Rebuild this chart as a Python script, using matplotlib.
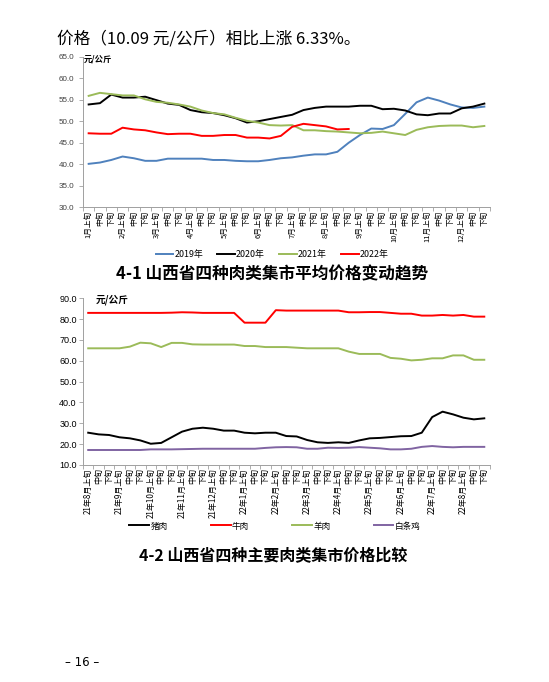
import matplotlib
matplotlib.use("Agg")
import matplotlib.pyplot as plt
import numpy as np

plt.rcParams['font.family'] = ['Noto Sans CJK SC', 'DejaVu Sans']

# ---------------- data: chart 4-1 ----------------
months1 = ["1月", "2月", "3月", "4月", "5月", "6月", "7月", "8月", "9月", "10月", "11月", "12月"]
periods = ["上旬", "中旬", "下旬"]
labels1 = []
for m in months1:
    labels1 += [m + "上旬", "中旬", "下旬"]

y2019 = [40.1, 40.4, 41.0, 41.8, 41.4, 40.8, 40.8, 41.3, 41.3, 41.3, 41.3, 41.0,
         41.0, 40.8, 40.7, 40.7, 41.0, 41.4, 41.6, 42.0, 42.3, 42.3, 42.9, 45.0,
         46.8, 48.3, 48.2, 49.1, 51.7, 54.4, 55.5, 54.8, 53.9, 53.2, 53.1, 53.4]
y2020 = [53.9, 54.2, 56.2, 55.5, 55.5, 55.7, 54.9, 54.1, 53.8, 52.6, 52.1, 51.9,
         51.4, 50.7, 49.7, 50.0, 50.5, 51.0, 51.5, 52.6, 53.1, 53.4, 53.4, 53.4,
         53.6, 53.6, 52.8, 52.9, 52.5, 51.6, 51.4, 51.8, 51.8, 53.0, 53.4, 54.1]
y2021 = [55.9, 56.6, 56.3, 56.0, 56.0, 55.1, 54.5, 54.3, 53.9, 53.4, 52.5, 51.9,
         51.6, 50.8, 50.1, 49.7, 49.1, 49.0, 49.1, 47.9, 47.9, 47.7, 47.6, 47.4,
         47.2, 47.3, 47.6, 47.2, 46.8, 48.0, 48.6, 48.9, 49.0, 49.0, 48.6, 48.9]
y2022 = [47.2, 47.1, 47.1, 48.5, 48.1, 47.9, 47.4, 47.0, 47.1, 47.1, 46.6, 46.6,
         46.8, 46.8, 46.2, 46.2, 46.0, 46.6, 48.7, 49.4, 49.1, 48.8, 48.1, 48.2]
series1_names = ["2019年", "2020年", "2021年", "2022年"]
series1_colors = ["#4F81BD", "#000000", "#9BBB59", "#FF0000"]

# ---------------- data: chart 4-2 ----------------
months2 = ["21年8月", "21年9月", "21年10月", "21年11月", "21年12月", "22年1月", "22年2月",
           "22年3月", "22年4月", "22年5月", "22年6月", "22年7月", "22年8月"]
labels2 = []
for m in months2:
    labels2 += [m + "上旬", "中旬", "下旬"]

pork = [25.5, 24.7, 24.4, 23.3, 22.8, 21.8, 20.2, 20.6, 23.3, 26.0, 27.4, 27.9, 27.4,
        26.5, 26.5, 25.5, 25.2, 25.5, 25.5, 23.9, 23.7, 22.0, 20.9, 20.6, 20.9, 20.6,
        21.8, 22.8, 23.0, 23.4, 23.8, 23.9, 25.5, 33.0, 35.6, 34.3, 32.7, 31.9, 32.4]
beef = [83.0, 83.0, 83.0, 83.0, 83.0, 83.0, 83.0, 83.0, 83.1, 83.3, 83.2, 83.0, 83.0,
        83.0, 83.0, 78.3, 78.3, 78.3, 84.3, 84.1, 84.1, 84.1, 84.1, 84.1, 84.1, 83.3,
        83.3, 83.4, 83.4, 83.0, 82.6, 82.6, 81.7, 81.7, 82.0, 81.7, 82.0, 81.2, 81.2]
mutton = [66.0, 66.0, 66.0, 66.0, 66.8, 68.7, 68.4, 66.6, 68.6, 68.6, 67.9, 67.8, 67.8,
          67.8, 67.8, 67.1, 67.1, 66.6, 66.6, 66.6, 66.3, 66.0, 66.0, 66.0, 66.0, 64.4,
          63.3, 63.3, 63.3, 61.4, 61.0, 60.2, 60.5, 61.2, 61.2, 62.6, 62.6, 60.5, 60.5]
chicken = [17.2, 17.2, 17.2, 17.2, 17.2, 17.2, 17.5, 17.5, 17.5, 17.6, 17.7, 17.8, 17.8,
           17.8, 17.8, 17.8, 17.8, 18.2, 18.5, 18.6, 18.5, 17.8, 17.8, 18.3, 18.2, 18.3,
           18.6, 18.3, 18.0, 17.5, 17.5, 17.8, 18.7, 19.1, 18.7, 18.5, 18.7, 18.7, 18.7]
series2_names = ["猪肉", "牛肉", "羊肉", "白条鸡"]
series2_colors = ["#000000", "#FF0000", "#9BBB59", "#8064A2"]

W, H = 549, 682
fig = plt.figure(figsize=(W / 100, H / 100), dpi=100)


def fx(px):
    return px / W


def fy(py):
    return 1 - py / H


def style_axes(ax, n, ylim, step, ylab_size, ylab_color, xlab_size, labels, ypad):
    ax.set_xlim(-0.5, n - 0.5)
    ax.set_ylim(*ylim)
    ticks = np.arange(ylim[0], ylim[1] + 0.01, step)
    ax.set_yticks(ticks)
    ax.set_yticklabels([f"{v:.1f}" for v in ticks],
                       fontsize=ylab_size, color=ylab_color, family=['Liberation Sans', 'DejaVu Sans'])
    ax.set_xticks(np.arange(n))
    ax.set_xticklabels(labels, rotation=90, fontsize=xlab_size, ha='center', va='top')
    ax.set_xticks(np.arange(-0.5, n, 1.0), minor=True)
    ax.tick_params(axis='x', which='major', length=0, pad=2.5)
    ax.tick_params(axis='x', which='minor', length=3, color='#A0A0A0', width=0.6)
    ax.tick_params(axis='y', which='major', length=3, color='#A0A0A0', width=0.6, pad=ypad)
    for s in ['top', 'right']:
        ax.spines[s].set_visible(False)
    for s in ['left', 'bottom']:
        ax.spines[s].set_color('#A0A0A0')
        ax.spines[s].set_linewidth(0.7)
    ax.set_facecolor('white')


# ---------------- chart 4-1 ----------------
ax1 = fig.add_axes([fx(83), fy(207.3), fx(490 - 83), (207.3 - 56.7) / H])
for vals, name, col in zip([y2019, y2020, y2021, y2022], series1_names, series1_colors):
    ax1.plot(np.arange(len(vals)), vals, color=col, lw=1.4, label=name)
style_axes(ax1, len(labels1), (30, 65), 5, 5.8, '#404040', 5.5, labels1, 3.5)
fig.text(fx(84), fy(59), "元/公斤", fontsize=6, fontweight='bold', va='center', ha='left')
h1, l1 = ax1.get_legend_handles_labels()
fig.legend(h1, l1, loc='center', bbox_to_anchor=(fx(272), fy(255)), ncol=4, frameon=False,
           handlelength=2.0, handletextpad=0.1, columnspacing=1.6,
           prop={'family': ['Noto Sans CJK SC', 'DejaVu Sans'], 'size': 6.4})
fig.text(fx(272.5), fy(274), "4-1 山西省四种肉类集市平均价格变动趋势", fontsize=12,
         fontweight='bold', ha='center', va='center')

# ---------------- chart 4-2 ----------------
ax2 = fig.add_axes([fx(83), fy(465), fx(489.5 - 83), (465 - 298.3) / H])
for vals, name, col in zip([pork, beef, mutton, chicken], series2_names, series2_colors):
    ax2.plot(np.arange(len(vals)), vals, color=col, lw=1.4, label=name)
style_axes(ax2, len(labels2), (10, 90), 10, 6.5, '#000000', 5.8, labels2, 1.5)
fig.text(fx(96), fy(300), "元/公斤", fontsize=7, fontweight='bold', va='center', ha='left')
h2, l2 = ax2.get_legend_handles_labels()
fig.legend(h2, l2, loc='center', bbox_to_anchor=(fx(275), fy(526)), ncol=4, frameon=False,
           handlelength=2.3, handletextpad=0.15, columnspacing=5.0,
           prop={'family': ['Noto Sans CJK SC', 'DejaVu Sans'], 'size': 6.2})
fig.text(fx(273.5), fy(555), "4-2 山西省四种主要肉类集市价格比较", fontsize=11.5,
         fontweight='bold', ha='center', va='center')

# ---------------- page text ----------------
fig.text(fx(57), fy(39), "价格（10.09 元/公斤）相比上涨 6.33%。", fontsize=12,
         ha='left', va='center')
fig.text(fx(65), fy(663), "– 16 –", fontsize=8.5, ha='left', va='center',
         family=['DejaVu Sans'])

fig.savefig("out.png", dpi=100, facecolor='white')
